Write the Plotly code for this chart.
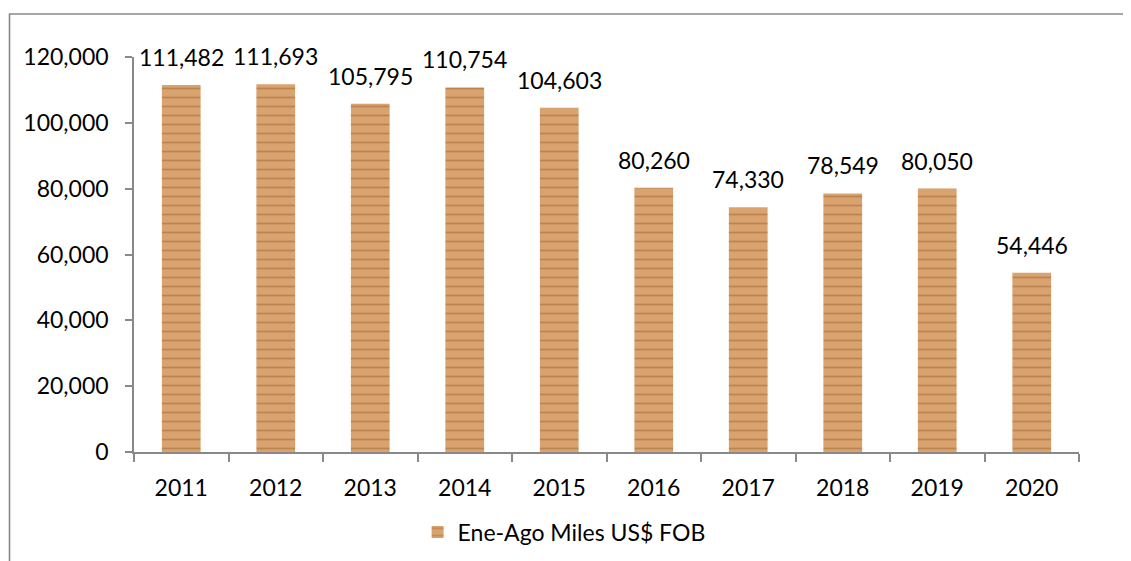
import plotly.graph_objects as go

years = ["2011", "2012", "2013", "2014", "2015", "2016", "2017", "2018", "2019", "2020"]
values = [111482, 111693, 105795, 110754, 104603, 80260, 74330, 78549, 80050, 54446]
series_name = "Ene-Ago Miles US$ FOB"
y_ticks = [0, 20000, 40000, 60000, 80000, 100000, 120000]
y_tick_labels = ["0", "20,000", "40,000", "60,000", "80,000", "100,000", "120,000"]

FONT = "Lato"
AXIS = "#898989"

fig = go.Figure()
fig.add_trace(go.Bar(
    x=years, y=values, name=series_name,
    marker=dict(
        color="#D69D69",
        line=dict(width=0),
        pattern=dict(shape="-", bgcolor="#D9A36F", fgcolor="#A4662E",
                     size=9, solidity=0.2, fgopacity=0.5),
    ),
    hoverinfo="x+y",
))

for i, v in enumerate(values):
    fig.add_annotation(x=i, y=v, text=f"{v:,}", showarrow=False,
                       xref="x", yref="y",
                       yanchor="middle", yshift=28,
                       font=dict(family=FONT, size=23, color="#000000"))

# page body has an 8px margin: figure starts at (8, 8) in the window
W, H = 1123, 553
L, T = 126, 49
pw, ph = 945, 395
R = W - L - pw
B = H - T - ph

fig.add_shape(type="rect", xref="paper", yref="paper",
              x0=(1.5 - L) / pw, x1=(W + 20 - L) / pw,
              y0=-(B + 20) / ph, y1=(H - B - 6) / ph,
              line=dict(color=AXIS, width=1.6), fillcolor="rgba(0,0,0,0)", layer="below")

fig.update_layout(
    width=W, height=H,
    margin=dict(l=L, r=R, t=T, b=B, pad=0, autoexpand=False),
    paper_bgcolor="white", plot_bgcolor="white",
    bargap=0.59,
    font=dict(family=FONT, size=23, color="#000000"),
    showlegend=True,
    legend=dict(orientation="h", xref="container", yref="container",
                x=0.4952, xanchor="center", y=0.0524, yanchor="middle",
                font=dict(family=FONT, size=23, color="#000000"),
                bgcolor="rgba(0,0,0,0)"),
    xaxis=dict(type="category", range=[-0.5, 9.5], showline=True, linecolor=AXIS, linewidth=1.6,
               ticks="outside", tickson="boundaries", ticklen=8, tickcolor=AXIS,
               tickwidth=1.6, showgrid=False, zeroline=False, automargin=False,
               tickangle=0, tickfont=dict(family=FONT, size=23), ticklabelstandoff=15),
    yaxis=dict(range=[0, 120000], tickvals=y_ticks, ticktext=y_tick_labels,
               showline=True, linecolor=AXIS, linewidth=1.6, automargin=False,
               ticks="outside", ticklen=7, tickcolor=AXIS, tickwidth=1.6,
               showgrid=False, zeroline=False,
               tickfont=dict(family=FONT, size=23), ticklabelstandoff=12),
)

fig.write_html("out.html")
